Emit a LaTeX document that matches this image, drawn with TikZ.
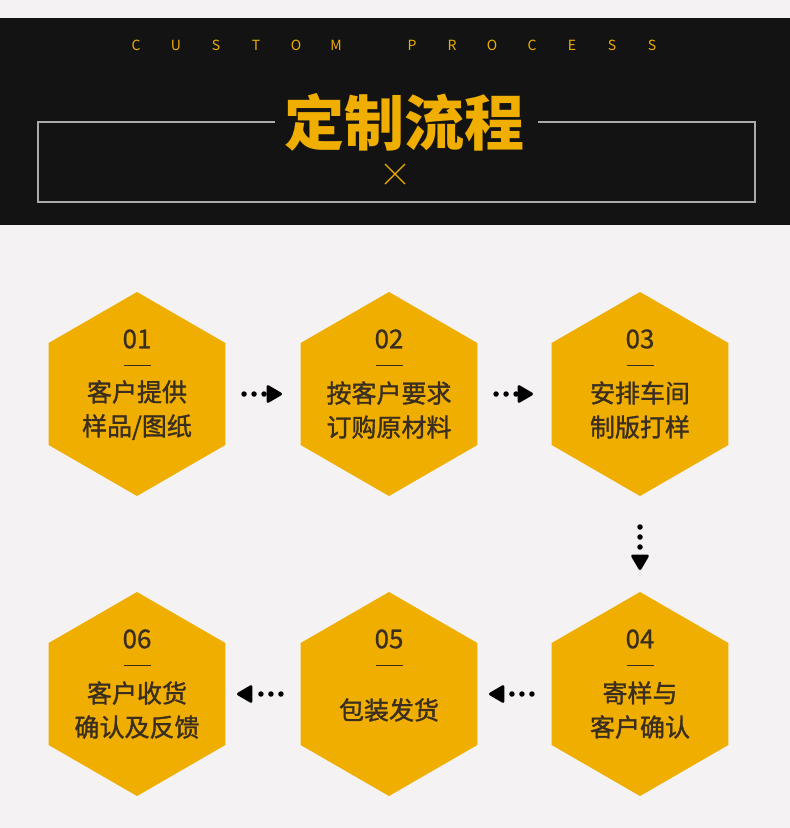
\documentclass[tikz,border=0pt]{standalone}
\usepackage{fontspec}
\usepackage{xcolor}
\usepackage{tikz}
\usetikzlibrary{positioning,shapes.geometric,arrows.meta}
\newfontfamily\cjk{Noto Sans CJK SC}
\newfontfamily\cjkmid[FakeBold=1.3]{Noto Sans CJK SC}
\newfontfamily\cjknum[FakeBold=0.8]{Noto Sans CJK SC}
\definecolor{gold}{HTML}{EFAE00}
\definecolor{ink}{HTML}{3A2E20}
\definecolor{paper}{HTML}{F4F2F2}
\definecolor{band}{HTML}{131313}
\definecolor{frameline}{HTML}{ABABAB}

\tikzset{
  hexcell/.style={regular polygon,regular polygon sides=6,shape border rotate=30,
    minimum size=204pt,inner sep=0pt,outer sep=0pt,fill=gold},
  numtxt/.style={text=ink,font=\cjknum\fontsize{26}{26}\selectfont,inner sep=0pt},
  celltxt/.style={text=ink,font=\cjkmid\fontsize{25}{34}\selectfont,align=center,inner sep=0pt},
  numbar/.style={draw=ink,line width=0.8pt},
  flowdots/.style={black,line width=5.5pt,dash pattern=on 0pt off 10pt,line cap=round,
    -{Triangle[length=17pt,width=19pt,round,line width=3pt]}},
  headletter/.style={text=gold,font=\cjk\fontsize{14}{14}\selectfont,inner sep=0pt}
}

\begin{document}
\begin{tikzpicture}[x=1pt,y=-1pt]
  \useasboundingbox (0,0) rectangle (790,828);
  \fill[paper] (0,0) rectangle (790,828);
  \fill[band] (0,18) rectangle (790,225);

  % header
  \foreach \ch [count=\k] in {C,U,S,T,O,M}
    \node[headletter] (c\k) at ({136+40*(\k-1)},45) {\ch};
  \foreach \ch [count=\k] in {P,R,O,C,E,S,S}
    \node[headletter] (p\k) at ({412+40*(\k-1)},45) {\ch};
  \node[text=gold,font=\cjk\bfseries\fontsize{60}{60}\selectfont,inner sep=0pt] (title) at (404,122) {定制流程};
  \draw[frameline,line width=1.2pt] (275,122) -- (38,122) -- (38,202) -- (755,202) -- (755,122) -- (538,122);
  \draw[gold,line width=1.3pt] (385,164) -- (405,184) (385,184) -- (405,164);

  % cells
  \node[hexcell] (h1) at (137,394) {};
  \node[hexcell] (h2) at (389,394) {};
  \node[hexcell] (h3) at (640,394) {};
  \node[hexcell] (h4) at (640,694) {};
  \node[hexcell] (h5) at (389,694) {};
  \node[hexcell] (h6) at (137,694) {};

  \node[numtxt] (n1) at ([yshift=55pt]h1.center) {01};
  \node[numtxt] (n2) at ([yshift=55pt]h2.center) {02};
  \node[numtxt] (n3) at ([yshift=55pt]h3.center) {03};
  \node[numtxt] (n4) at ([yshift=55pt]h4.center) {04};
  \node[numtxt] (n5) at ([yshift=55pt]h5.center) {05};
  \node[numtxt] (n6) at ([yshift=55pt]h6.center) {06};

  \draw[numbar] ([xshift=-13.5pt,yshift=29pt]h1.center) -- ([xshift=13.5pt,yshift=29pt]h1.center);
  \draw[numbar] ([xshift=-13.5pt,yshift=29pt]h2.center) -- ([xshift=13.5pt,yshift=29pt]h2.center);
  \draw[numbar] ([xshift=-13.5pt,yshift=29pt]h3.center) -- ([xshift=13.5pt,yshift=29pt]h3.center);
  \draw[numbar] ([xshift=-13.5pt,yshift=29pt]h4.center) -- ([xshift=13.5pt,yshift=29pt]h4.center);
  \draw[numbar] ([xshift=-13.5pt,yshift=29pt]h5.center) -- ([xshift=13.5pt,yshift=29pt]h5.center);
  \draw[numbar] ([xshift=-13.5pt,yshift=29pt]h6.center) -- ([xshift=13.5pt,yshift=29pt]h6.center);

  \node[celltxt] (t1) at ([yshift=-16pt]h1.center) {客户提供\\样品/图纸};
  \node[celltxt] (t2) at ([yshift=-16pt]h2.center) {按客户要求\\订购原材料};
  \node[celltxt] (t3) at ([yshift=-16pt]h3.center) {安排车间\\制版打样};
  \node[celltxt] (t4) at ([yshift=-16pt]h4.center) {寄样与\\客户确认};
  \node[celltxt] (t5) at ([yshift=-16pt]h5.center) {包装发货};
  \node[celltxt] (t6) at ([yshift=-16pt]h6.center) {客户收货\\确认及反馈};

  % connectors
  \draw[flowdots,shorten <=18.7pt,shorten >=18.7pt] (h1) -- (h2);
  \draw[flowdots,shorten <=18.7pt,shorten >=18.7pt] (h2) -- (h3);
  \draw[flowdots,shorten <=31pt,shorten >=22pt] (h3) -- (h4);
  \draw[flowdots,shorten <=19.7pt,shorten >=11.7pt] (h4) -- (h5);
  \draw[flowdots,shorten <=19.7pt,shorten >=11.7pt] (h5) -- (h6);
\end{tikzpicture}
\end{document}
